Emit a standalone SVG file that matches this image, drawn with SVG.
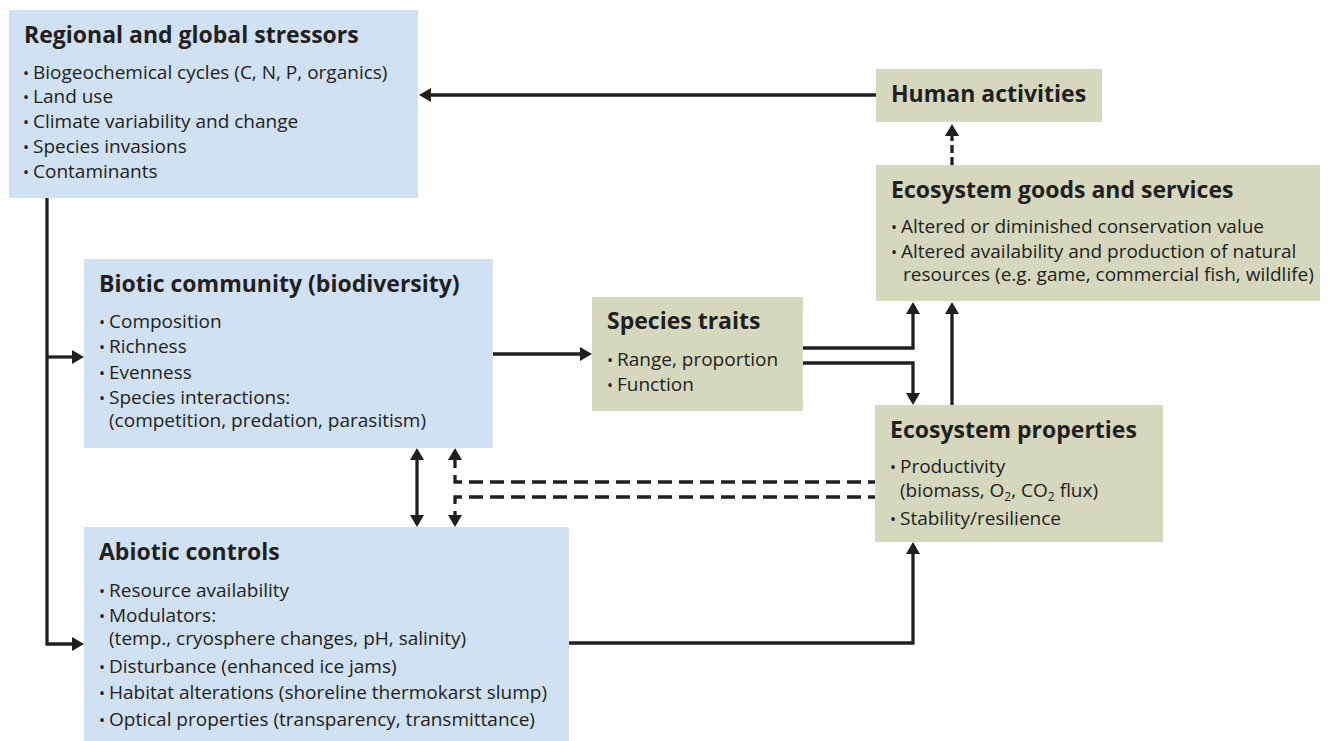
<svg xmlns="http://www.w3.org/2000/svg" width="1330" height="741" viewBox="0 0 1330 741">
  <style>
    .blue { fill: #cfe1f2; }
    .green { fill: #d5d8bd; }
    text { font-family: "Open Sans", "Noto Sans", "Liberation Sans", sans-serif; fill: #231f20; }
    .title { font-size: 23px; font-weight: bold; }
    .item { font-size: 19px; }
    .dot { font-size: 16px; }
    .sub { font-size: 12px; }
    .line { fill: none; stroke: #231f20; stroke-width: 3.3; }
    .dash { stroke-dasharray: 14 7; }
  </style>
  <defs>
    <marker id="arrow" markerUnits="userSpaceOnUse" viewBox="0 0 12 14" refX="1" refY="7" markerWidth="12" markerHeight="14" orient="auto-start-reverse">
      <path d="M0,0 L12,7 L0,14 Z" fill="#231f20"/>
    </marker>
  </defs>

  <!-- connectors -->
  <g id="connectors">
    <path class="line" d="M876,95 H430" marker-end="url(#arrow)"/>
    <path class="line" d="M47,198 V644 H73" marker-end="url(#arrow)"/>
    <path class="line" d="M47,357 H73" marker-end="url(#arrow)"/>
    <path class="line" d="M493,354 H581" marker-end="url(#arrow)"/>
    <path class="line" d="M803,348 H913 V313" marker-end="url(#arrow)"/>
    <path class="line" d="M803,363 H913 V394" marker-end="url(#arrow)"/>
    <path class="line" d="M952,405 V313" marker-end="url(#arrow)"/>
    <path class="line" d="M569,643 H913 V553" marker-end="url(#arrow)"/>
    <path class="line" d="M417,459 V516" marker-start="url(#arrow)" marker-end="url(#arrow)"/>
    <path class="line" d="M952,165 V135" stroke-dasharray="8 4" marker-end="url(#arrow)"/>
    <path class="line dash" d="M455,459 V482 H875" stroke-dashoffset="5" marker-start="url(#arrow)"/>
    <path class="line dash" d="M455,516 V497 H875" stroke-dashoffset="9" marker-start="url(#arrow)"/>
  </g>

  <!-- stressors -->
  <g id="regional-stressors">
    <rect class="blue" x="9" y="10" width="409" height="188"/>
    <text class="title" x="24" y="43">Regional and global stressors</text>
    <text class="item" y="79"><tspan class="dot" x="23">•</tspan><tspan x="33">Biogeochemical cycles (C, N, P, organics)</tspan></text>
    <text class="item" y="103"><tspan class="dot" x="23">•</tspan><tspan x="33">Land use</tspan></text>
    <text class="item" y="128"><tspan class="dot" x="23">•</tspan><tspan x="33">Climate variability and change</tspan></text>
    <text class="item" y="153"><tspan class="dot" x="23">•</tspan><tspan x="33">Species invasions</tspan></text>
    <text class="item" y="178"><tspan class="dot" x="23">•</tspan><tspan x="33">Contaminants</tspan></text>
  </g>

  <g id="human-activities">
    <rect class="green" x="876" y="69" width="226" height="53"/>
    <text class="title" x="891" y="102">Human activities</text>
  </g>

  <g id="goods-services">
    <rect class="green" x="876" y="165" width="444" height="136"/>
    <text class="title" x="891" y="198">Ecosystem goods and services</text>
    <text class="item" y="233"><tspan class="dot" x="891">•</tspan><tspan x="901">Altered or diminished conservation value</tspan></text>
    <text class="item" y="258"><tspan class="dot" x="891">•</tspan><tspan x="901">Altered availability and production of natural</tspan></text>
    <text class="item" x="903" y="281">resources (e.g. game, commercial fish, wildlife)</text>
  </g>

  <g id="biotic-community">
    <rect class="blue" x="84" y="259" width="409" height="189"/>
    <text class="title" x="99" y="292">Biotic community (biodiversity)</text>
    <text class="item" y="328"><tspan class="dot" x="99">•</tspan><tspan x="109">Composition</tspan></text>
    <text class="item" y="353"><tspan class="dot" x="99">•</tspan><tspan x="109">Richness</tspan></text>
    <text class="item" y="379"><tspan class="dot" x="99">•</tspan><tspan x="109">Evenness</tspan></text>
    <text class="item" y="404"><tspan class="dot" x="99">•</tspan><tspan x="109">Species interactions:</tspan></text>
    <text class="item" x="109" y="427">(competition, predation, parasitism)</text>
  </g>

  <g id="species-traits">
    <rect class="green" x="592" y="297" width="211" height="114"/>
    <text class="title" x="607" y="329">Species traits</text>
    <text class="item" y="366"><tspan class="dot" x="607">•</tspan><tspan x="617">Range, proportion</tspan></text>
    <text class="item" y="391"><tspan class="dot" x="607">•</tspan><tspan x="617">Function</tspan></text>
  </g>

  <g id="ecosystem-properties">
    <rect class="green" x="875" y="405" width="288" height="137"/>
    <text class="title" x="890" y="438">Ecosystem properties</text>
    <text class="item" y="473"><tspan class="dot" x="890">•</tspan><tspan x="900">Productivity</tspan></text>
    <text class="item" x="900" y="497">(biomass, O<tspan class="sub" dy="4">2</tspan><tspan dy="-4">, CO</tspan><tspan class="sub" dy="4">2</tspan><tspan dy="-4"> flux)</tspan></text>
    <text class="item" y="525"><tspan class="dot" x="890">•</tspan><tspan x="900">Stability/resilience</tspan></text>
  </g>

  <g id="abiotic-controls">
    <rect class="blue" x="84" y="527" width="485" height="214"/>
    <text class="title" x="99" y="560">Abiotic controls</text>
    <text class="item" y="597"><tspan class="dot" x="99">•</tspan><tspan x="109">Resource availability</tspan></text>
    <text class="item" y="622"><tspan class="dot" x="99">•</tspan><tspan x="109">Modulators:</tspan></text>
    <text class="item" x="109" y="645">(temp., cryosphere changes, pH, salinity)</text>
    <text class="item" y="673"><tspan class="dot" x="99">•</tspan><tspan x="109">Disturbance (enhanced ice jams)</tspan></text>
    <text class="item" y="699"><tspan class="dot" x="99">•</tspan><tspan x="109">Habitat alterations (shoreline thermokarst slump)</tspan></text>
    <text class="item" y="726"><tspan class="dot" x="99">•</tspan><tspan x="109">Optical properties (transparency, transmittance)</tspan></text>
  </g>
</svg>
